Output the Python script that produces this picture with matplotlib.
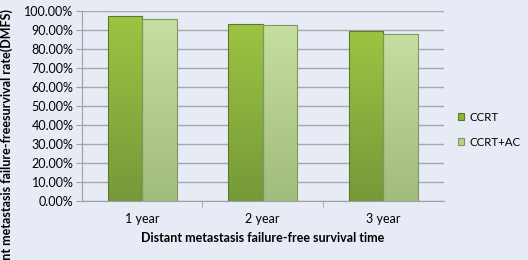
import matplotlib.pyplot as plt
import numpy as np
from matplotlib.ticker import FuncFormatter
from matplotlib.colors import LinearSegmentedColormap

categories = ['1 year', '2 year', '3 year']
ccrt = [97.5, 93.3, 89.3]
ccrt_ac = [95.6, 92.5, 88.1]
series_names = ['CCRT', 'CCRT+AC']

bg = '#E6EBF5'
plt.rcParams['font.family'] = ['Lato', 'DejaVu Sans']

fig = plt.figure(figsize=(5.28, 2.6), dpi=100, facecolor=bg)
ax = fig.add_axes([0.155, 0.227, 0.685, 0.731], facecolor=bg)

x = np.arange(len(categories))
w = 0.286
b1 = ax.bar(x - w / 2, ccrt, w, color='#8CB43C', edgecolor='#5E7A28', linewidth=0.8,
            label=series_names[0], zorder=3)
b2 = ax.bar(x + w / 2, ccrt_ac, w, color='#B8D48E', edgecolor='#7F9860', linewidth=0.8,
            label=series_names[1], zorder=3)

ax.legend(loc='center left', bbox_to_anchor=(1.02, 0.375), frameon=False,
          fontsize=8.3, handlelength=0.55, handleheight=0.55, labelspacing=1.2,
          handletextpad=0.45, borderaxespad=0.2)

# vertical gradient inside each bar (top lighter, bottom darker)
grads = [(b1, '#9CC442', '#76993A'), (b2, '#C6DEA0', '#A2BC7E')]
for bars, top, bot in grads:
    cmap = LinearSegmentedColormap.from_list('g', [bot, top])
    for r in bars:
        x0, y0 = r.get_x(), r.get_y()
        im = ax.imshow(np.linspace(0, 1, 64).reshape(-1, 1), cmap=cmap, aspect='auto',
                       origin='lower', extent=[x0, x0 + r.get_width(), y0, y0 + r.get_height()],
                       zorder=3.5)
        im.set_clip_path(r)
        r.set_facecolor('none')
        r.set_zorder(4)

ax.set_xlim(-0.5, len(categories) - 0.5)
ax.set_ylim(0, 100)
ax.set_yticks(np.arange(0, 101, 10))
ax.yaxis.set_major_formatter(FuncFormatter(lambda v, p: f'{v:.2f}%'))
ax.set_xticks(x)
ax.set_xticklabels(categories)
ax.set_xticks([0.5, 1.5], minor=True)
ax.tick_params(axis='x', which='major', length=0, pad=9, labelsize=9)
ax.tick_params(axis='x', which='minor', length=4, color='#A0A0A0')
ax.tick_params(axis='y', length=4, color='#A0A0A0', labelsize=9, pad=2)
ax.grid(axis='y', color='#A8A8A8', linewidth=1, zorder=0)

for s in ['top', 'right']:
    ax.spines[s].set_visible(False)
ax.spines['left'].set_color('#A0A0A0')
ax.spines['bottom'].set_color('#A0A0A0')

ax.set_xlabel('Distant metastasis failure-free survival time', fontsize=9,
              fontweight='bold', labelpad=5)
# y label runs off the bottom edge, as in the original
fig.text(7 / 528, 1 - 9 / 260, 'Distant metastasis failure-freesurvival rate(DMFS)',
         rotation=90, ha='center', va='top', fontsize=9, fontweight='bold')

fig.savefig('out.png', dpi=100, facecolor=bg)
